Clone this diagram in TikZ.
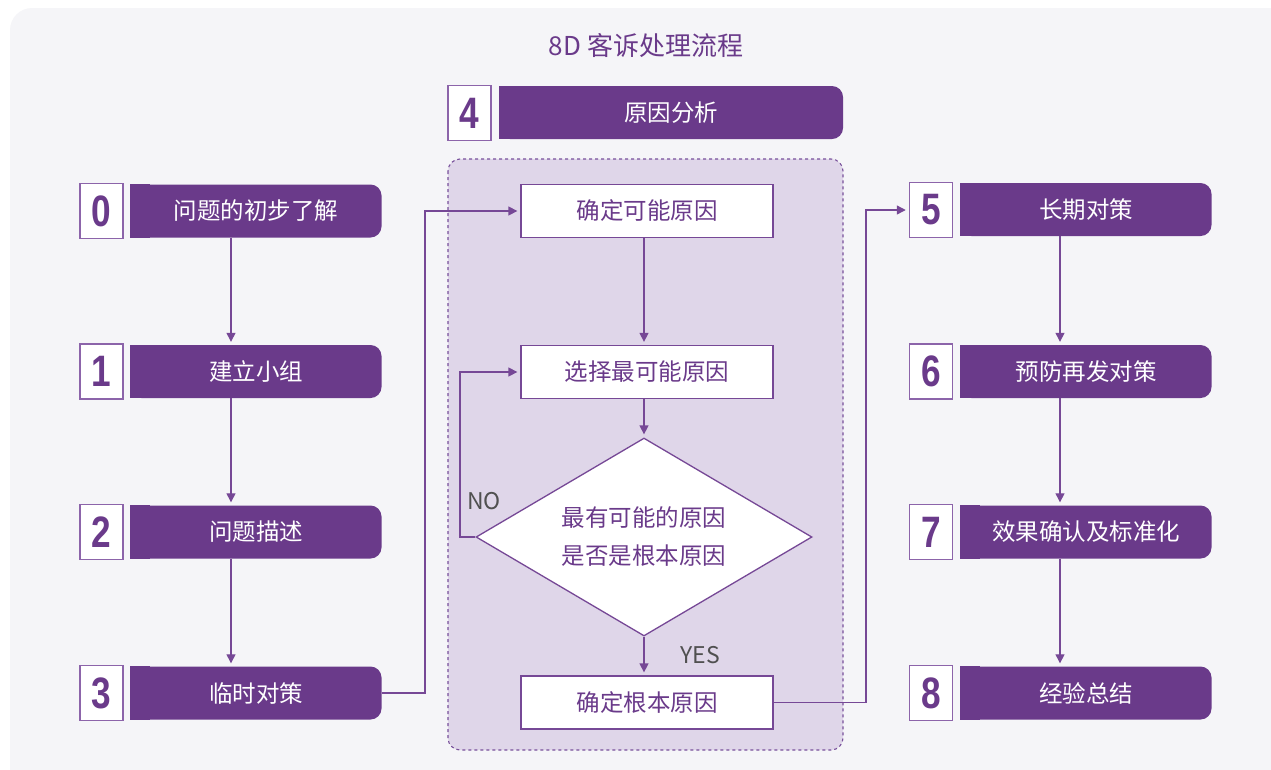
\documentclass[tikz,border=0pt]{standalone}
\usepackage{fontspec}
\setmainfont{Noto Sans CJK SC}
\newfontfamily\numfont[FakeStretch=0.8]{Liberation Sans}
\usetikzlibrary{shapes.geometric,arrows.meta}
\pgfdeclarelayer{bgl}\pgfdeclarelayer{patch}\pgfsetlayers{bgl,patch,main}
\definecolor{stepfill}{RGB}{106,58,138}
\definecolor{lineclr}{RGB}{118,72,150}
\definecolor{numborder}{RGB}{140,100,170}
\definecolor{grpfill}{RGB}{223,214,233}
\definecolor{grpborder}{RGB}{120,80,155}
\definecolor{bgcol}{RGB}{245,245,248}
\definecolor{graytext}{RGB}{80,80,80}
\begin{document}
\begin{tikzpicture}[x=1pt,y=-1pt,
  stepbox/.style={fill=stepfill, text=white, rounded corners=11pt, minimum width=251pt, minimum height=53pt, inner sep=0pt, font=\fontsize{23.5}{28}\selectfont},
  numbox/.style={draw=numborder, line width=1.5pt, fill=white, text=stepfill, minimum width=43pt, minimum height=55pt, inner sep=0pt, font=\numfont\bfseries\fontsize{44}{44}\selectfont},
  whitebox/.style={draw=lineclr, line width=1.3pt, fill=white, text=stepfill, minimum width=252pt, minimum height=53pt, inner sep=0pt, font=\fontsize{23.5}{28}\selectfont},
  decision/.style={diamond, aspect=1.7, draw=lineclr, line width=1.3pt, fill=white, text=stepfill, minimum width=336pt, minimum height=198pt, inner sep=0pt, align=center, font=\fontsize{23.5}{38}\selectfont},
  arr/.style={draw=lineclr, line width=1.3pt, -{Triangle[length=9pt,width=9pt]}, shorten >=3pt},
  lbl/.style={text=graytext, inner sep=0pt, font=\fontsize{23}{23}\selectfont},
  titlestyle/.style={text=stepfill, inner sep=0pt, font=\fontsize{26}{30}\selectfont},
  grpstyle/.style={draw=grpborder, dashed, line width=1.1pt, fill=grpfill, rounded corners=12pt}
]
\useasboundingbox (0,0) rectangle (1271,769);
\begin{pgfonlayer}{bgl}
  \begin{scope}
    \clip (0,0) rectangle (1271,769);
    \fill[bgcol, rounded corners=22pt] (10,8) rectangle (1300,800);
  \end{scope}
\end{pgfonlayer}

\node[titlestyle] (title) at (646,46) {8D 客诉处理流程};

% group container
\draw[grpstyle] (448,159) rectangle (843,750);

% left column
\node[numbox] (n0) at (101.5,211) {0};
\node[stepbox] (s0) at (256,211) {问题的初步了解};
\node[numbox] (n1) at (101.5,371.5) {1};
\node[stepbox] (s1) at (256,371.5) {建立小组};
\node[numbox] (n2) at (101.5,532) {2};
\node[stepbox] (s2) at (256,532) {问题描述};
\node[numbox] (n3) at (101.5,693) {3};
\node[stepbox] (s3) at (256,693) {临时对策};

% step 4
\node[numbox] (n4) at (469.5,113) {4};
\node[stepbox, minimum width=344pt] (s4) at (671,112.5) {原因分析};

% right column
\node[numbox] (n5) at (931,210) {5};
\node[stepbox] (s5) at (1086,209.5) {长期对策};
\node[numbox] (n6) at (931,371.5) {6};
\node[stepbox] (s6) at (1086,371.5) {预防再发对策};
\node[numbox] (n7) at (931,532) {7};
\node[stepbox] (s7) at (1086,532) {效果确认及标准化};
\node[numbox] (n8) at (931,693) {8};
\node[stepbox] (s8) at (1086,693) {经验总结};

% square left corners of step boxes
\begin{pgfonlayer}{patch}
  \foreach \s in {s0,s1,s2,s3,s4,s5,s6,s7,s8}
    \fill[stepfill] (\s.south west) rectangle ([xshift=20pt]\s.north west);
\end{pgfonlayer}

% centre flow
\node[whitebox] (w1) at (647,211) {确定可能原因};
\node[whitebox] (w2) at (647,372) {选择最可能原因};
\node[decision] (d) at (644,537) {最有可能的原因\\是否是根本原因};
\node[whitebox] (w3) at (647,702.5) {确定根本原因};

\node[lbl] (no) at (484,501) {NO};
\node[lbl] (yes) at (700,655) {YES};

% helper coordinates
\coordinate (lx) at (231,0);
\coordinate (rx) at (1060,0);
\coordinate (j1) at (425,0);
\coordinate (j2) at (460,0);
\coordinate (j3) at (866,0);

% left arrows
\draw[arr] (s0.south -| lx) -- (s1.north -| lx);
\draw[arr] (s1.south -| lx) -- (s2.north -| lx);
\draw[arr] (s2.south -| lx) -- (s3.north -| lx);
% right arrows
\draw[arr] (s5.south -| rx) -- (s6.north -| rx);
\draw[arr] (s6.south -| rx) -- (s7.north -| rx);
\draw[arr] (s7.south -| rx) -- (s8.north -| rx);

% centre arrows
\draw[arr] (w1.south -| d.north) -- (w2.north -| d.north);
\draw[arr] (w2.south -| d.north) -- (d.north);
\draw[arr] (d.south) -- (w3.north -| d.south);
\draw[arr] (d.west) -- (d.west -| j2) |- (w2.west);

% cross connectors
\draw[arr] (s3.east) -- (s3.east -| j1) |- (w1.west);
\draw[arr] (w3.east) -- (w3.east -| j3) |- (n5.west);
\end{tikzpicture}
\end{document}
